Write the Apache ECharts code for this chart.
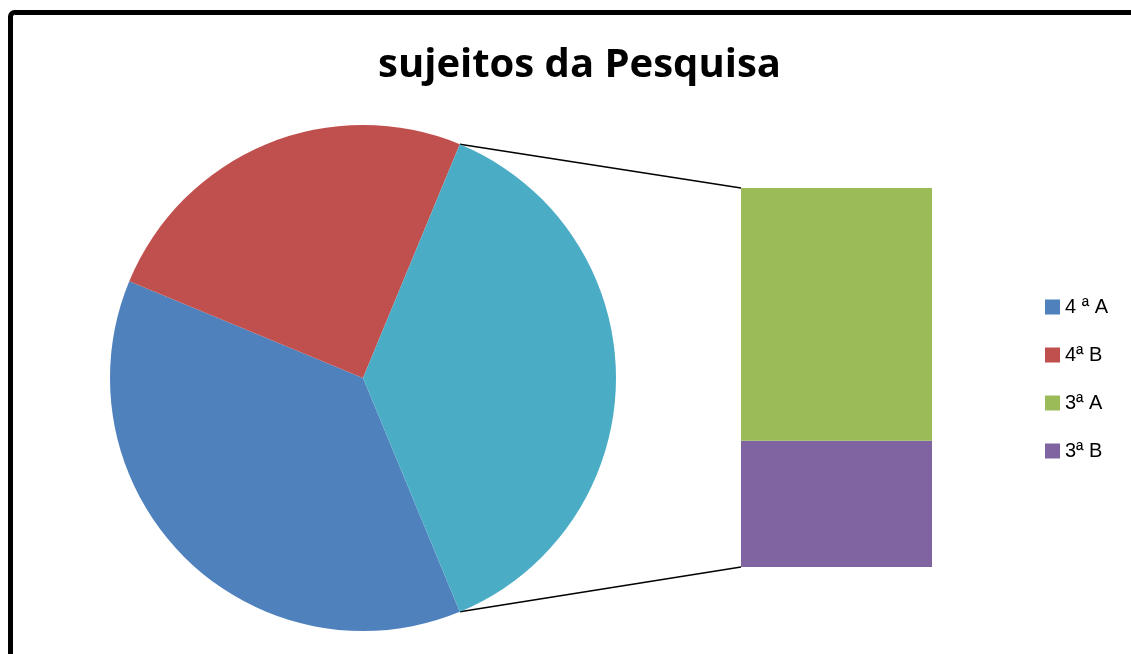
<!DOCTYPE html>
<html>
<head>
<meta charset="utf-8">
<script src="https://cdn.jsdelivr.net/npm/echarts@6/dist/echarts.min.js"></script>
<style>
  html, body { margin: 0; padding: 0; background: #fff; }
  #chart { width: 1131px; height: 654px; }
</style>
</head>
<body>
<div id="chart"></div>
<script>
// dados do gráfico (pizza + barra de "outros")
const pieNames = ['4 ª A', '4ª B'];
const pieValues = [3, 2];
const barNames = ['3ª A', '3ª B'];
const barValues = [2, 1];
const legendNames = ['4 ª A', '4ª B', '3ª A', '3ª B'];

const colors = {
  '4 ª A': '#4F81BD',
  '4ª B': '#C0504D',
  '3ª A': '#9BBB59',
  '3ª B': '#8064A2',
  outros: '#4BACC6'
};

// layout
const pieCenter = [363, 378];
const pieRadius = 253;
const barGrid = { left: 741, top: 188, width: 191, height: 379 };

const otherTotal = barValues.reduce((a, b) => a + b, 0);
const total = pieValues.reduce((a, b) => a + b, 0) + otherTotal;
const otherFrac = otherTotal / total;

const chart = echarts.init(document.getElementById('chart'));

const pieData = pieNames.map((n, i) => ({
  name: n, value: pieValues[i], itemStyle: { color: colors[n] }
}));
pieData.push({ name: 'outros', value: otherTotal, itemStyle: { color: colors.outros } });

const option = {
  animation: false,
  textStyle: { fontFamily: 'Open Sans, sans-serif' },
  title: {
    text: 'sujeitos da Pesquisa',
    left: 373,
    top: 41,
    textStyle: { fontSize: 40, fontWeight: 'bold', color: '#000', fontFamily: 'Open Sans, sans-serif' }
  },
  legend: {
    data: legendNames,
    orient: 'vertical',
    left: 1040,
    top: 292,
    itemWidth: 15,
    itemHeight: 15,
    itemGap: 28,
    icon: 'rect',
    textStyle: { fontSize: 20, lineHeight: 20, color: '#000', fontFamily: 'Liberation Sans, Arial, sans-serif' }
  },
  grid: Object.assign({}, barGrid, { containLabel: false }),
  xAxis: { type: 'category', data: ['outros'], show: false },
  yAxis: { type: 'value', min: 0, max: otherTotal, show: false, splitLine: { show: false } },
  series: [
    {
      type: 'pie',
      center: pieCenter,
      radius: pieRadius,
      // fatia "outros" centrada na direita
      startAngle: -180 * otherFrac,
      clockwise: true,
      label: { show: false },
      labelLine: { show: false },
      itemStyle: { borderWidth: 0 },
      data: pieData
    },
    {
      name: '3ª B',
      type: 'bar',
      stack: 'o',
      barWidth: '100%',
      itemStyle: { color: colors['3ª B'] },
      data: [barValues[1]]
    },
    {
      name: '3ª A',
      type: 'bar',
      stack: 'o',
      barWidth: '100%',
      itemStyle: { color: colors['3ª A'] },
      data: [barValues[0]]
    }
  ]
};

chart.setOption(option);

// linhas de ligação entre a pizza e a barra
const half = Math.PI * otherFrac;
const px = pieCenter[0] + pieRadius * Math.cos(half);
const pyTop = pieCenter[1] - pieRadius * Math.sin(half);
const pyBot = pieCenter[1] + pieRadius * Math.sin(half);
const barTop = chart.convertToPixel({ yAxisIndex: 0 }, otherTotal);
const barBot = chart.convertToPixel({ yAxisIndex: 0 }, 0);

chart.setOption({
  graphic: [
    {
      type: 'rect',
      shape: { x: 10.5, y: 12.5, width: 1200, height: 700, r: 4 },
      style: { fill: 'none', stroke: '#000', lineWidth: 5 },
      silent: true
    },
    {
      type: 'line',
      shape: { x1: px, y1: pyTop, x2: barGrid.left, y2: barTop },
      style: { stroke: '#000', lineWidth: 1.5 },
      silent: true
    },
    {
      type: 'line',
      shape: { x1: px, y1: pyBot, x2: barGrid.left, y2: barBot },
      style: { stroke: '#000', lineWidth: 1.5 },
      silent: true
    }
  ]
});

window.addEventListener('resize', () => chart.resize());
</script>
</body>
</html>
